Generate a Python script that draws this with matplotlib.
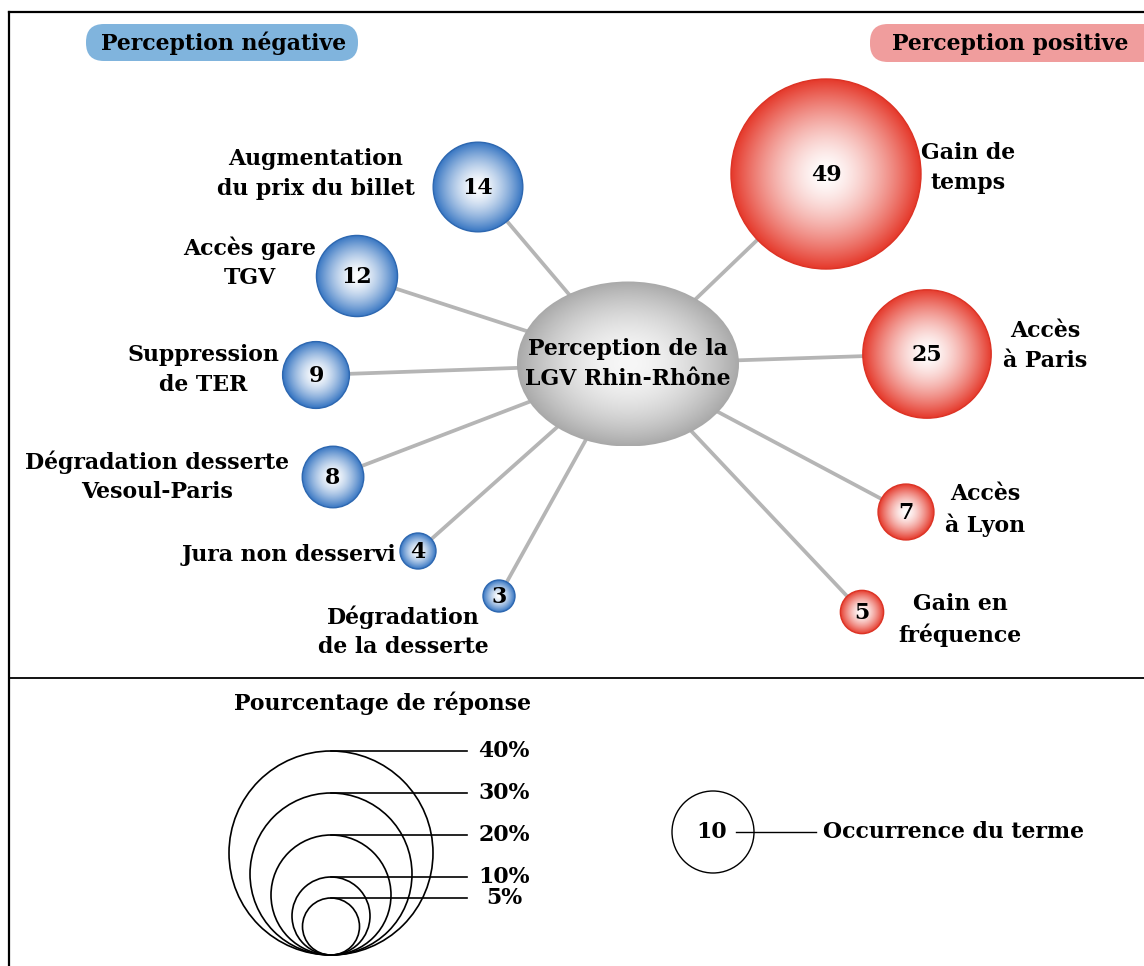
import numpy as np
import matplotlib
matplotlib.use("Agg")
import matplotlib.pyplot as plt
from matplotlib.patches import Circle, Ellipse, FancyBboxPatch
from matplotlib.colors import to_rgb

# ---------------- data ----------------
neg_labels = ["Augmentation\ndu prix du billet", "Accès gare\nTGV", "Suppression\nde TER",
              "Dégradation desserte\nVesoul-Paris", "Jura non desservi", "Dégradation\nde la desserte"]
neg_values = [14, 12, 9, 8, 4, 3]
pos_labels = ["Gain de\ntemps", "Accès\nà Paris", "Accès\nà Lyon", "Gain en\nfréquence"]
pos_values = [49, 25, 7, 5]
center_label = "Perception de la\nLGV Rhin-Rhône"
title_neg = "Perception négative"
title_pos = "Perception positive"
legend_title = "Pourcentage de réponse"
legend_pct = [40, 30, 20, 10, 5]
legend_example_value = 10
legend_example_text = "Occurrence du terme"

# ---------------- layout (pixels) ----------------
W, H = 1144, 966
center_xy = (628, 364)
center_wh = (222, 165)
neg_xy = [(478, 187), (357, 276), (316, 375), (333, 477), (418, 551), (499, 596)]
neg_label_xy = [(316, 174, "center"), (250, 263, "center"), (203, 370, "center"),
                (157, 477, "center"), (396, 555, "right"), (403, 632, "center")]
pos_xy = [(826, 174), (927, 354), (906, 512), (862, 612)]
pos_label_xy = [(968, 168, "center"), (1045, 346, "center"), (985, 510, "center"),
                (960, 620, "center")]

FONT = "DejaVu Serif"
FS = 15.8
LS = 1.42


def bubble_radius(v):
    return max(16.0, -12.8 + 15.4 * np.sqrt(v))


def legend_radius(p):
    return 2.1 * p + 18


fig = plt.figure(figsize=(W / 100, H / 100), dpi=100)
ax = fig.add_axes([0, 0, 1, 1])
ax.set_xlim(0, W)
ax.set_ylim(H, 0)
ax.axis("off")


def gradient_img(edge, inner="#ffffff", power=1.7, n=300):
    yy, xx = np.mgrid[-1:1:n * 1j, -1:1:n * 1j]
    d = np.clip(np.sqrt(xx ** 2 + yy ** 2), 0, 1)
    t = d ** power
    e = np.array(to_rgb(edge))
    c0 = np.array(to_rgb(inner))
    img = c0[None, None, :] * (1 - t[..., None]) + e[None, None, :] * t[..., None]
    return img


def draw_bubble(x, y, r, edge, rim, inner="#ffffff", power=1.7):
    img = gradient_img(edge, inner, power)
    im = ax.imshow(img, extent=(x - r, x + r, y + r, y - r), zorder=3,
                   interpolation="bilinear")
    clip = Circle((x, y), r, transform=ax.transData)
    im.set_clip_path(clip)
    ax.add_patch(Circle((x, y), r, fill=False, ec=rim, lw=1.0, zorder=4))


def label(x, y, s, ha="center", **kw):
    ax.text(x, y, s, ha=ha, va="center", fontsize=kw.pop("fontsize", FS),
            fontweight="bold", family=FONT, linespacing=LS,
            multialignment="center", zorder=5, **kw)


# connectors
for (x, y) in neg_xy + pos_xy:
    ax.plot([center_xy[0], x], [center_xy[1], y], color="#b5b5b5", lw=2.7,
            zorder=1, solid_capstyle="butt")

# center ellipse
cx, cy = center_xy
ew, eh = center_wh
img = gradient_img("#a9a9a9", "#f7f7f7", power=1.8)
im = ax.imshow(img, extent=(cx - ew / 2, cx + ew / 2, cy + eh / 2, cy - eh / 2),
               zorder=3, interpolation="bilinear")
im.set_clip_path(Ellipse((cx, cy), ew, eh, transform=ax.transData))
label(cx, cy, center_label)

# negative bubbles
for (x, y), v, lab, (lx, ly, ha) in zip(neg_xy, neg_values, neg_labels, neg_label_xy):
    r = bubble_radius(v)
    draw_bubble(x, y, r, "#3675c2", "#2d67b0", power=1.5)
    label(x, y + 1, str(v))
    label(lx, ly, lab, ha=ha)

# positive bubbles
for (x, y), v, lab, (lx, ly, ha) in zip(pos_xy, pos_values, pos_labels, pos_label_xy):
    r = bubble_radius(v)
    draw_bubble(x, y, r, "#e5392b", "#dc3325", power=1.5)
    label(x, y + 1, str(v))
    label(lx, ly, lab, ha=ha)

# title pills
ax.add_patch(FancyBboxPatch((86, 24), 272, 37, boxstyle="round,pad=0,rounding_size=18",
                            fc="#80b4dd", ec="none", zorder=2))
label(224, 43, title_neg)
ax.add_patch(FancyBboxPatch((870, 24), 300, 38, boxstyle="round,pad=0,rounding_size=18",
                            fc="#f09d9d", ec="none", zorder=2))
label(1010, 44, title_pos)

# frame
ax.plot([9, W + 5], [12, 12], color="black", lw=1.6, zorder=6)
ax.plot([9, 9], [12, H + 5], color="black", lw=1.6, zorder=6)
ax.plot([9, W + 5], [678, 678], color="black", lw=1.3, zorder=6)

# legend: percentages
lx0, lbottom = 331, 955
label(382, 703, legend_title)
for p in legend_pct:
    r = legend_radius(p)
    ax.add_patch(Circle((lx0, lbottom - r), r, fill=False, ec="black", lw=1.2))
    top = lbottom - 2 * r
    ax.plot([lx0, 467], [top, top], color="black", lw=1.2)
    label(504, top, f"{p}%")

# legend: occurrence
ox, oy = 713, 832
ax.add_patch(Circle((ox, oy), 41, fill=False, ec="black", lw=1.0))
label(712, oy, str(legend_example_value))
ax.plot([736, 816], [oy, oy], color="black", lw=1.0)
label(823, oy, legend_example_text, ha="left")

ax.set_xlim(0, W)
ax.set_ylim(H, 0)
ax.set_aspect("auto")
fig.savefig("out.png", dpi=100)
